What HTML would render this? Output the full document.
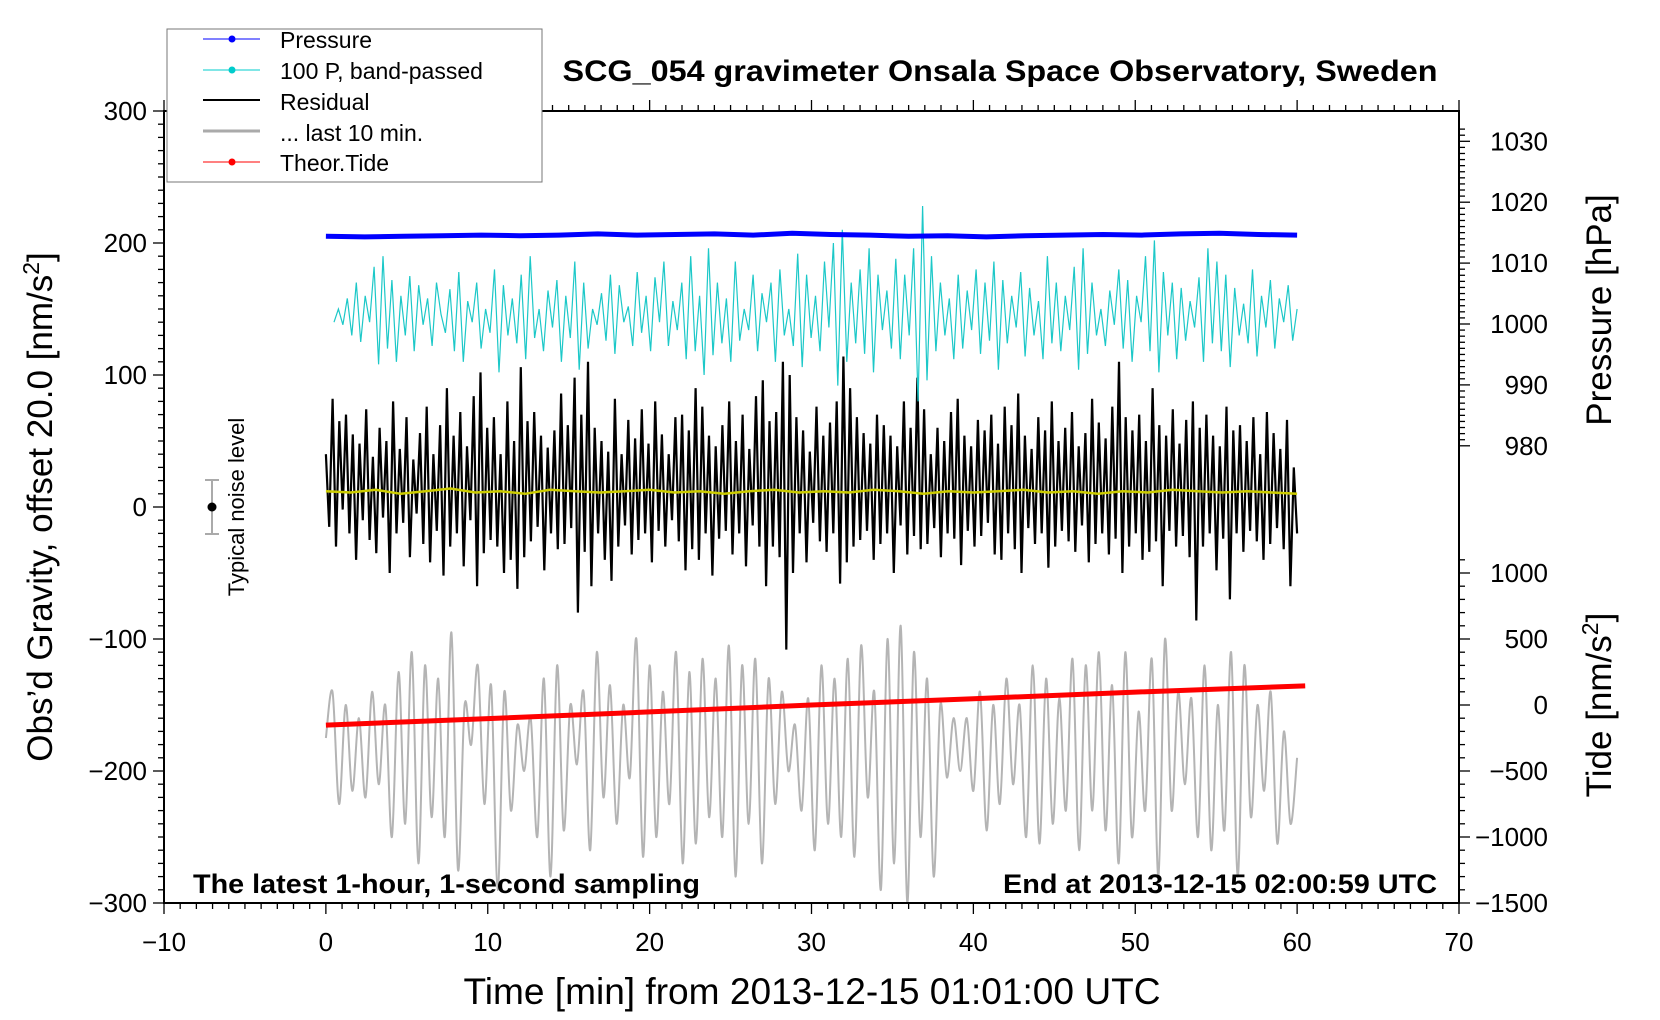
<!DOCTYPE html>
<html><head><meta charset="utf-8"><style>
html,body{margin:0;padding:0;background:#fff;}
svg{display:block;font-family:"Liberation Sans",sans-serif;}
</style></head><body>
<svg id="chart" width="1660" height="1020" viewBox="0 0 1660 1020">
<g id="plot"></g>
<g id="axes"></g>
<text x="1000" y="81" text-anchor="middle" font-size="30" font-weight="bold" textLength="875" lengthAdjust="spacingAndGlyphs">SCG_054 gravimeter Onsala Space Observatory, Sweden</text>
<text x="193" y="893" font-size="27" font-weight="bold" textLength="507" lengthAdjust="spacingAndGlyphs">The latest 1-hour, 1-second sampling</text>
<text x="1437" y="893" text-anchor="end" font-size="27" font-weight="bold" textLength="434" lengthAdjust="spacingAndGlyphs">End at 2013-12-15 02:00:59 UTC</text>
<text x="812" y="1004" text-anchor="middle" font-size="37" textLength="697" lengthAdjust="spacingAndGlyphs">Time [min] from 2013-12-15 01:01:00 UTC</text>
<text transform="translate(52,507) rotate(-90)" text-anchor="middle" font-size="35">Obs’d Gravity, offset 20.0 [nm/s<tspan font-size="23" dy="-13">2</tspan><tspan dy="13">]</tspan></text>
<text transform="translate(1611,310) rotate(-90)" text-anchor="middle" font-size="35">Pressure [hPa]</text>
<text transform="translate(1611,705) rotate(-90)" text-anchor="middle" font-size="35">Tide [nm/s<tspan font-size="23" dy="-13">2</tspan><tspan dy="13">]</tspan></text>
<g>
<line x1="212" y1="480" x2="212" y2="534" stroke="#aaa" stroke-width="2"/>
<line x1="205" y1="480" x2="219" y2="480" stroke="#aaa" stroke-width="2"/>
<line x1="205" y1="534" x2="219" y2="534" stroke="#aaa" stroke-width="2"/>
<circle cx="212" cy="507" r="4.5" fill="#000"/>
<text transform="translate(244,507) rotate(-90)" text-anchor="middle" font-size="22">Typical noise level</text>
</g>
<g>
<rect x="167" y="29" width="375" height="153" fill="#fff" stroke="#777" stroke-width="1"/>
<line x1="203" y1="39" x2="260" y2="39" stroke="#00f" stroke-width="1"/><circle cx="232" cy="39" r="3.5" fill="#00f"/>
<text x="280" y="48" font-size="23">Pressure</text>
<line x1="203" y1="70" x2="260" y2="70" stroke="#0cc" stroke-width="1"/><circle cx="232" cy="70" r="3.5" fill="#0cc"/>
<text x="280" y="79" font-size="23">100 P, band-passed</text>
<line x1="203" y1="100" x2="260" y2="100" stroke="#000" stroke-width="2"/>
<text x="280" y="110" font-size="23">Residual</text>
<line x1="203" y1="131" x2="260" y2="131" stroke="#aaa" stroke-width="3"/>
<text x="280" y="141" font-size="23">... last 10 min.</text>
<line x1="203" y1="162" x2="260" y2="162" stroke="#f00" stroke-width="1"/><circle cx="232" cy="162" r="3.5" fill="#f00"/>
<text x="280" y="171" font-size="23">Theor.Tide</text>
</g>
</svg>
<script>
// ---- data (left-axis units nm/s^2 unless noted) ----
const residual=[30,-25,72,-40,55,-12,60,-30,45,-50,38,-20,64,-35,28,-45,50,-18,40,-60,70,-30,34,-22,58,-48,26,-15,46,-38,66,-52,30,-28,52,-62,80,-40,44,-30,62,-55,36,-20,74,-70,92,-45,50,-35,58,-40,30,-60,70,-50,40,-72,96,-48,55,-36,62,-25,44,-58,35,-30,48,-42,76,-38,52,-26,88,-90,60,-44,100,-70,50,-30,40,-50,32,-66,72,-40,30,-24,56,-46,42,-35,64,-30,38,-52,70,-28,45,-40,30,-20,58,-36,60,-58,48,-42,80,-50,66,-30,44,-62,36,-34,52,-28,70,-46,40,-30,60,-55,34,-24,74,-40,86,-70,55,-40,62,-48,100,-118,90,-60,58,-30,48,-52,32,-22,66,-36,44,-44,54,-30,70,-68,104,-52,80,-40,58,-35,46,-28,38,-50,60,-38,52,-30,44,-60,36,-24,70,-46,50,-32,88,-42,64,-38,30,-26,50,-48,40,-30,62,-34,72,-54,44,-28,36,-40,56,-32,48,-22,60,-46,38,-50,66,-30,52,-42,76,-60,44,-26,34,-38,58,-30,48,-56,70,-40,40,-28,50,-36,62,-44,36,-24,46,-52,72,-38,54,-30,42,-46,66,-34,100,-60,58,-40,48,-30,60,-50,40,-44,80,-36,52,-70,44,-28,64,-40,38,-32,56,-48,70,-96,50,-40,60,-30,44,-58,36,-34,66,-80,48,-30,52,-44,40,-28,58,-36,30,-50,62,-38,46,-26,34,-42,56,-70,20,-30];
const bandpassed=[140,150,138,158,130,170,125,160,140,182,108,190,120,172,110,160,130,175,118,168,138,158,122,170,146,132,165,118,178,110,156,140,170,120,150,132,180,102,168,130,158,124,176,112,190,128,150,118,164,136,172,110,160,128,186,104,170,120,150,138,162,126,176,116,168,140,152,122,178,132,160,118,174,140,186,122,156,134,170,112,190,118,160,100,196,115,170,124,158,110,186,126,150,134,176,118,162,140,170,110,180,130,150,122,192,106,176,128,160,118,186,136,200,92,210,110,170,124,180,116,196,102,176,134,164,120,188,112,176,130,196,80,228,96,190,118,170,130,158,112,176,120,164,134,180,116,170,126,186,104,172,124,160,136,178,114,166,130,156,112,190,124,170,118,160,134,182,104,196,116,170,130,150,122,164,138,180,120,172,110,160,140,190,118,202,102,178,130,170,112,166,126,156,136,174,110,196,124,186,118,176,106,166,130,154,124,180,114,160,136,172,120,158,140,168,126,150];
const pressureHpa=[1014.4,1014.3,1014.4,1014.5,1014.6,1014.5,1014.6,1014.8,1014.6,1014.7,1014.8,1014.6,1014.9,1014.7,1014.6,1014.4,1014.5,1014.3,1014.5,1014.6,1014.7,1014.6,1014.8,1014.9,1014.7,1014.6];
const yellow=[12,11,13,10,12,14,11,12,10,13,12,11,12,13,11,12,10,12,13,11,12,11,13,12,10,12,11,12,13,11,12,10,12,11,13,12,11,12,11,10];
const gray=[-175,-140,-225,-150,-215,-160,-220,-140,-210,-150,-250,-125,-240,-110,-270,-120,-235,-130,-250,-95,-275,-150,-180,-120,-225,-135,-290,-140,-230,-165,-200,-160,-250,-130,-280,-120,-245,-150,-195,-140,-260,-110,-220,-135,-240,-150,-205,-100,-265,-120,-250,-140,-225,-110,-270,-125,-255,-115,-235,-130,-250,-105,-280,-120,-240,-115,-270,-130,-225,-140,-200,-165,-230,-145,-260,-120,-240,-130,-250,-115,-265,-105,-220,-140,-290,-100,-270,-90,-300,-110,-250,-130,-280,-150,-205,-160,-200,-160,-215,-140,-245,-150,-225,-130,-210,-150,-250,-120,-255,-130,-240,-145,-230,-115,-260,-120,-230,-110,-245,-135,-270,-110,-250,-155,-230,-115,-280,-100,-230,-140,-210,-145,-250,-120,-260,-150,-245,-110,-280,-120,-235,-150,-215,-140,-255,-170,-240,-190];
const tideTimes=[0,10,20,30,40,50,60.5];
const tideVals=[-152,-103,-52,0,48,98,145];
const xTicks=[-10,0,10,20,30,40,50,60,70];
const yTicks=[-300,-200,-100,0,100,200,300];
const pTicks=[980,990,1000,1010,1020,1030];
const tTicks=[-1500,-1000,-500,0,500,1000];

// ---- scales ----
const L=164,R=1459,T=111,B=903;
const xs=t=>L+(t+10)*(R-L)/80;
const ys=v=>507-v*1.32;
const ps=p=>324-(p-1000)*6.09;
const ts=v=>705-v*0.132;
const NS='http://www.w3.org/2000/svg';
const plot=document.getElementById('plot'),axes=document.getElementById('axes');
function mk(tag,attrs,parent){const e=document.createElementNS(NS,tag);for(const k in attrs)e.setAttribute(k,attrs[k]);parent.appendChild(e);return e;}
function series(vals,t0,t1,yf){return vals.map((v,i)=>[xs(t0+(t1-t0)*i/(vals.length-1)),yf(v)]);}
function poly(pts){return pts.map(p=>p[0].toFixed(1)+','+p[1].toFixed(1)).join(' ');}
function smooth(pts){let d='M'+pts[0][0]+','+pts[0][1];for(let i=0;i<pts.length-1;i++){const p0=pts[Math.max(i-1,0)],p1=pts[i],p2=pts[i+1],p3=pts[Math.min(i+2,pts.length-1)];const c1=[p1[0]+(p2[0]-p0[0])/6,p1[1]+(p2[1]-p0[1])/6],c2=[p2[0]-(p3[0]-p1[0])/6,p2[1]-(p3[1]-p1[1])/6];d+=' C'+c1.map(n=>n.toFixed(1))+' '+c2.map(n=>n.toFixed(1))+' '+p2.map(n=>n.toFixed(1));}return d;}

let g=mk('path',{d:smooth(series(gray,0,60,ys)),fill:'none',stroke:'#b4b4b4','stroke-width':2},plot);


let td=mk('polyline',{points:poly(tideTimes.map((t,i)=>[xs(t),ts(tideVals[i])])),fill:'none',stroke:'#f00','stroke-width':5},plot);


let rs=mk('polyline',{points:poly(series(residual,0,60,v=>ys(v+10))),fill:'none',stroke:'#000','stroke-width':2.2},plot);


let yl=mk('polyline',{points:poly(series(yellow,0,60,ys)),fill:'none',stroke:'#cc0','stroke-width':2.5},plot);


let cy=mk('polyline',{points:poly(series(bandpassed,0.5,60,ys)),fill:'none',stroke:'#1cc8c8','stroke-width':1.2},plot);


let pr=mk('polyline',{points:poly(series(pressureHpa,0,60,ps)),fill:'none',stroke:'#00f','stroke-width':5},plot);



// ---- axes ----
mk('rect',{x:L,y:T,width:R-L,height:B-T,fill:'none',stroke:'#000','stroke-width':2},axes);
function tick(x1,y1,x2,y2,w){mk('line',{x1,y1,x2,y2,stroke:'#000','stroke-width':w||1.3},axes);}
for(let t=-10;t<=70;t++){const x=xs(t),maj=t%10===0;tick(x,B,x,B+(maj?11:6));tick(x,T,x,T-(maj?11:6));}
for(let v=-300;v<=300;v+=10){const y=ys(v),maj=v%100===0;tick(L,y,L-(maj?11:6),y);}
for(let p=976;p<=1032;p++){const y=ps(p);if(y<T||y>450)continue;tick(R,y,R+(p%10===0?11:6),y);}
for(let v=-1500;v<=1100;v+=100){const y=ts(v);if(y>B||y<555)continue;tick(R,y,R+(v%500===0?11:6),y);}
xTicks.forEach(t=>{let e=mk('text',{x:xs(t),y:951,'text-anchor':'middle','font-size':26},axes);e.textContent=String(t).replace('-','\u2212');});
yTicks.forEach(v=>{let e=mk('text',{x:L-17,y:ys(v)+9,'text-anchor':'end','font-size':26},axes);e.textContent=String(v).replace('-','\u2212');});
pTicks.forEach(p=>{let e=mk('text',{x:1548,y:ps(p)+9,'text-anchor':'end','font-size':26},axes);e.textContent=p;});
tTicks.forEach(v=>{let e=mk('text',{x:1548,y:ts(v)+9,'text-anchor':'end','font-size':26},axes);e.textContent=String(v).replace('-','\u2212');});
</script>
</body></html>
